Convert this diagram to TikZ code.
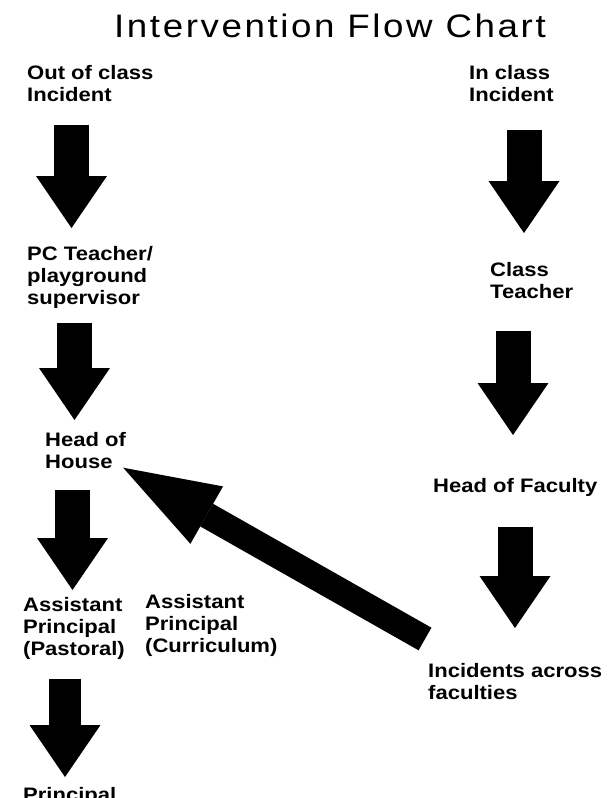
\documentclass[tikz,border=0pt]{standalone}
\usepackage{fontspec}
\setmainfont{Liberation Sans}[FakeStretch=1.13]
\newfontfamily\titlefont{Liberation Sans}[FakeStretch=1.13,LetterSpace=8]
\usetikzlibrary{arrows.meta}

\tikzset{
  lbl/.style={anchor=north west,inner sep=0pt,align=left,
    font=\fontsize{19.5}{22}\selectfont\bfseries},
  bigarrow/.style={line width=35pt,
    -{Triangle[width=71pt,length=52pt,line width=0pt]}},
}

\begin{document}
\begin{tikzpicture}[x=1pt,y=-1pt]
    \useasboundingbox (0,0) rectangle (612,798);
    \node[anchor=base,inner sep=0pt,font=\titlefont\fontsize{32.5}{36}\selectfont]
      (title) at (330,37) {Intervention Flow Chart};

    \node[lbl] (outclass) at (27,65) {Out of class\\Incident};
    \node[lbl] (pcteacher) at (27,246) {PC Teacher/\\playground\\supervisor};
    \node[lbl] (hoh) at (45,432) {Head of\\House};
    \node[lbl] (appast) at (23,597) {Assistant\\Principal\\(Pastoral)};
    \node[lbl] (apcurr) at (145,594) {Assistant\\Principal\\(Curriculum)};
    \node[lbl] (principal) at (23,787) {Principal};

    \node[lbl] (inclass) at (469,65) {In class\\Incident};
    \node[lbl] (classteacher) at (490,262) {Class\\Teacher};
    \node[lbl] (hof) at (433,478) {Head of Faculty};
    \node[lbl] (across) at (428,663) {Incidents across\\faculties};

    \draw[bigarrow] ([shift={(44.5pt,-23pt)}]outclass.south west)
      -- ([shift={(44.5pt,18pt)}]pcteacher.north west);
    \draw[bigarrow] ([shift={(47.5pt,-14pt)}]pcteacher.south west)
      -- ([shift={(29.5pt,12pt)}]hoh.north west);
    \draw[bigarrow] ([shift={(27.5pt,-21pt)}]hoh.south west)
      -- ([shift={(49.5pt,7pt)}]appast.north west);
    \draw[bigarrow,line width=32pt] ([shift={(42pt,-19pt)}]appast.south west)
      -- ([shift={(42pt,10pt)}]principal.north west);

    \draw[bigarrow] ([shift={(55pt,-28pt)}]inclass.south west)
      -- ([shift={(34pt,29pt)}]classteacher.north west);
    \draw[bigarrow] ([shift={(23pt,-32pt)}]classteacher.south west)
      -- ([shift={(80pt,43pt)}]hof.north west);
    \draw[bigarrow] ([shift={(82pt,-30pt)}]hof.south west)
      -- ([shift={(87pt,35pt)}]across.north west);

    \draw[line width=26pt,-{Triangle[width=66pt,length=96pt,line width=0pt]}]
      ([shift={(-3pt,24pt)}]across.north west) -- ([shift={(-3pt,1pt)}]hoh.south east);
\end{tikzpicture}
\end{document}
